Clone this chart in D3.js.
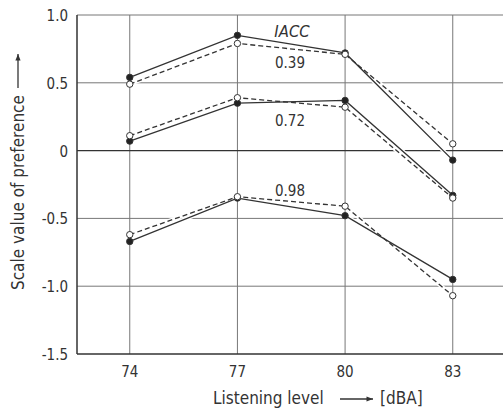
<!DOCTYPE html>
<html lang="en">
<head>
  <meta charset="UTF-8">
  <title>Scale value of preference</title>
  <script src="https://d3js.org/d3.v7.min.js"></script>
  <style>
    body { margin: 0; background: #fff; }
    text { font-family: "DejaVu Sans Condensed", "DejaVu Sans", sans-serif; fill: #333; }
  </style>
</head>
<body>
  <script>
    // data
    const levels = [74, 77, 80, 83];
    const yTicks = [1.0, 0.5, 0, -0.5, -1.0, -1.5];
    const yTickLabels = ["1.0", "0.5", "0", "-0.5", "-1.0", "-1.5"];
    const iaccLabels = ["0.39", "0.72", "0.98"];
    // filled circles, solid line
    const filled039 = [0.54, 0.85, 0.72, -0.07];
    const filled072 = [0.07, 0.35, 0.37, -0.33];
    const filled098 = [-0.67, -0.35, -0.48, -0.95];
    // open circles, dashed line
    const open039 = [0.49, 0.79, 0.71, 0.05];
    const open072 = [0.11, 0.39, 0.32, -0.35];
    const open098 = [-0.62, -0.34, -0.41, -1.07];

    const svg = d3.select("body").append("svg")
        .attr("width", 503)
        .attr("height", 414);

    const x = d3.scaleLinear().domain([72.53, 84.4]).range([77, 503]);
    const y = d3.scaleLinear().domain([-1.5, 1.0]).range([354, 15]);

    // grid
    svg.selectAll("line.vgrid")
        .data(levels)
        .enter().append("line")
        .attr("x1", d => x(d)).attr("x2", d => x(d))
        .attr("y1", y(1.0)).attr("y2", y(-1.5))
        .attr("stroke", "#777").attr("stroke-width", 1);

    svg.selectAll("line.hgrid")
        .data(yTicks)
        .enter().append("line")
        .attr("x1", 77).attr("x2", 503)
        .attr("y1", d => y(d)).attr("y2", d => y(d))
        .attr("stroke", d => (d === 0 || d === -1.5) ? "#333" : "#777")
        .attr("stroke-width", d => (d === 0 || d === -1.5) ? 1.3 : 1);

    // left axis
    svg.append("line")
        .attr("x1", 77).attr("x2", 77)
        .attr("y1", y(1.0)).attr("y2", y(-1.5))
        .attr("stroke", "#333").attr("stroke-width", 1.5);

    // tick labels
    svg.selectAll("text.ytick")
        .data(yTicks)
        .enter().append("text")
        .attr("x", 68)
        .attr("y", d => y(d) + 6)
        .attr("text-anchor", "end")
        .attr("font-size", 15)
        .text((d, i) => yTickLabels[i]);

    svg.selectAll("text.xtick")
        .data(levels)
        .enter().append("text")
        .attr("x", d => x(d))
        .attr("y", 377)
        .attr("text-anchor", "middle")
        .attr("font-size", 15)
        .text(d => d);

    // series
    const series = [
      { vals: filled039, open: false }, { vals: open039, open: true },
      { vals: filled072, open: false }, { vals: open072, open: true },
      { vals: filled098, open: false }, { vals: open098, open: true }
    ];

    const line = d3.line().x((d, i) => x(levels[i])).y(d => y(d));

    // white halo so the grid breaks where data lines cross
    svg.selectAll("path.halo")
        .data(series)
        .enter().append("path")
        .attr("d", d => line(d.vals))
        .attr("fill", "none")
        .attr("stroke", "#fff")
        .attr("stroke-width", 4);

    svg.selectAll("path.link")
        .data(series)
        .enter().append("path")
        .attr("d", d => line(d.vals))
        .attr("fill", "none")
        .attr("stroke", "#333")
        .attr("stroke-width", 1.3)
        .attr("stroke-dasharray", d => d.open ? "5,3" : null);

    series.forEach(s => {
      svg.selectAll(null)
          .data(s.vals)
          .enter().append("circle")
          .attr("cx", (d, i) => x(levels[i]))
          .attr("cy", d => y(d))
          .attr("r", 3.2)
          .attr("fill", s.open ? "#fff" : "#222")
          .attr("stroke", "#333")
          .attr("stroke-width", 1);
    });

    // annotations
    svg.append("text")
        .attr("x", 292).attr("y", 37)
        .attr("text-anchor", "middle")
        .attr("font-size", 16.5)
        .attr("font-style", "italic")
        .text("IACC");

    const labelVals = [0.609, 0.181, -0.335];
    svg.selectAll("text.iacc")
        .data(iaccLabels)
        .enter().append("text")
        .attr("x", 290)
        .attr("y", (d, i) => y(labelVals[i]))
        .attr("text-anchor", "middle")
        .attr("font-size", 15)
        .text(d => d);

    // arrow marker
    svg.append("defs").append("marker")
        .attr("id", "arrow")
        .attr("viewBox", "0 -5 10 10")
        .attr("refX", 10).attr("refY", 0)
        .attr("markerWidth", 7).attr("markerHeight", 5)
        .attr("orient", "auto")
        .append("path")
        .attr("d", "M0,-4L10,0L0,4Z")
        .attr("fill", "#333");

    // axis titles
    svg.append("text")
        .attr("transform", "translate(24,290) rotate(-90)")
        .attr("font-size", 17)
        .text("Scale value of preference");
    svg.append("line")
        .attr("x1", 18).attr("x2", 18)
        .attr("y1", 88).attr("y2", 54)
        .attr("stroke", "#333").attr("stroke-width", 1.3)
        .attr("marker-end", "url(#arrow)");

    svg.append("text")
        .attr("x", 213).attr("y", 404)
        .attr("font-size", 17)
        .text("Listening level");
    svg.append("line")
        .attr("x1", 340).attr("x2", 373)
        .attr("y1", 399).attr("y2", 399)
        .attr("stroke", "#333").attr("stroke-width", 1.3)
        .attr("marker-end", "url(#arrow)");
    svg.append("text")
        .attr("x", 380).attr("y", 404)
        .attr("font-size", 17)
        .text("[dBA]");
  </script>
</body>
</html>
